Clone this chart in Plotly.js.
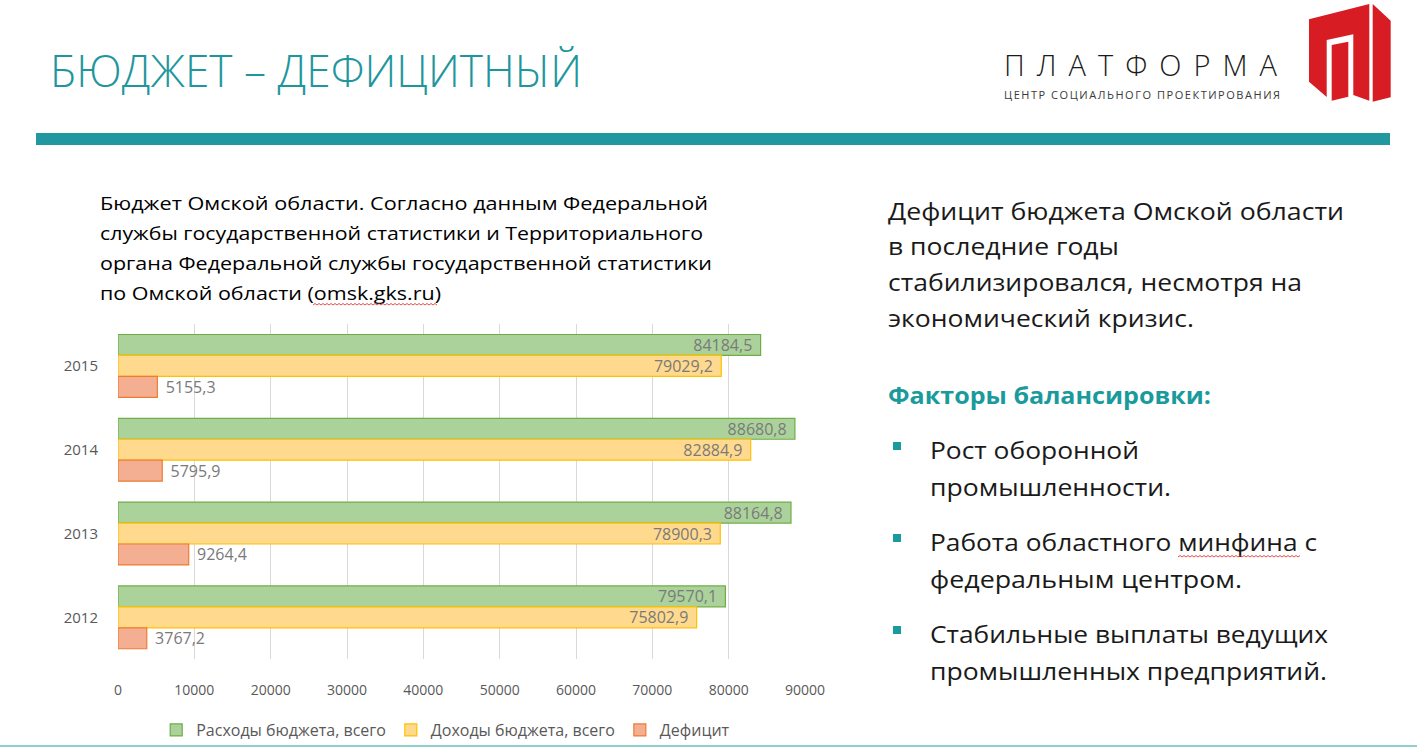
<!DOCTYPE html>
<html>
<head>
<meta charset="utf-8">
<script src="https://cdn.plot.ly/plotly-3.0.1.min.js"></script>
<style>
  html, body { margin:0; padding:0; background:#ffffff; }
  #wrap { position:relative; width:1417px; height:747px; overflow:hidden; }
  #chart { position:absolute; left:0; top:0; width:1417px; height:747px; }
  #deco { position:absolute; left:0; top:0; width:1417px; height:747px; pointer-events:none; }
  #deco text { font-family:"Open Sans","Noto Sans",sans-serif; }
</style>
</head>
<body>
<div id="wrap">
  <div id="chart"></div>
  <svg id="deco" width="1417" height="747" xmlns="http://www.w3.org/2000/svg">
    <!-- title -->
    <text x="50" y="87" font-size="45" font-weight="300" fill="#1f969e" textLength="532" lengthAdjust="spacingAndGlyphs">БЮДЖЕТ – ДЕФИЦИТНЫЙ</text>
    <!-- logo -->
    <text x="1004" y="76" font-size="29" font-weight="300" fill="#1a1a1a" textLength="273" lengthAdjust="spacing">ПЛАТФОРМА</text>
    <text x="1004" y="99" font-size="11" fill="#3a3a3a" textLength="276" lengthAdjust="spacing">ЦЕНТР СОЦИАЛЬНОГО ПРОЕКТИРОВАНИЯ</text>
    <polygon points="1309,19.3 1369.3,4 1369.3,100.7 1353.3,95 1353.3,34.3 1326.7,40 1326.7,97 1309,81.7" fill="#d81c24"/>
    <polygon points="1331.7,45 1348.3,41.7 1348.3,96.7 1331.7,100.7" fill="#d81c24"/>
    <polygon points="1372.7,4 1390.7,20.7 1390.7,97.3 1372.7,101.7" fill="#d81c24"/>
    <!-- teal rule -->
    <rect x="36" y="133" width="1354" height="12" fill="#21979f"/>
    <rect x="0" y="745" width="1417" height="2" fill="#8fd0cf"/>
    <!-- intro text -->
    <g font-size="18" fill="#000000">
      <text x="100" y="210" textLength="608" lengthAdjust="spacingAndGlyphs">Бюджет Омской области. Согласно данным Федеральной</text>
      <text x="100" y="240" textLength="603" lengthAdjust="spacingAndGlyphs">службы государственной статистики и Территориального</text>
      <text x="100" y="270" textLength="612" lengthAdjust="spacingAndGlyphs">органа Федеральной службы государственной статистики</text>
      <text x="100" y="300" textLength="341" lengthAdjust="spacingAndGlyphs">по Омской области (omsk.gks.ru)</text>
    </g>
    <!-- right text -->
    <g font-size="24" fill="#1a1a1a">
      <text x="888" y="220" textLength="456" lengthAdjust="spacingAndGlyphs">Дефицит бюджета Омской области</text>
      <text x="888" y="255" textLength="231" lengthAdjust="spacingAndGlyphs">в последние годы</text>
      <text x="888" y="291" textLength="414" lengthAdjust="spacingAndGlyphs">стабилизировался, несмотря на</text>
      <text x="888" y="327" textLength="306" lengthAdjust="spacingAndGlyphs">экономический кризис.</text>
    </g>
    <text x="888" y="404" font-size="24" font-weight="700" fill="#1a9a9c" textLength="323" lengthAdjust="spacingAndGlyphs">Факторы балансировки:</text>
    <g fill="#1a9a9c">
      <rect x="893" y="442" width="8" height="8"/>
      <rect x="893" y="534" width="8" height="8"/>
      <rect x="893" y="626" width="8" height="8"/>
    </g>
    <g font-size="24" fill="#1a1a1a">
      <text x="930" y="459" textLength="209" lengthAdjust="spacingAndGlyphs">Рост оборонной</text>
      <text x="930" y="496" textLength="241" lengthAdjust="spacingAndGlyphs">промышленности.</text>
      <text x="930" y="551" textLength="387" lengthAdjust="spacingAndGlyphs">Работа областного минфина с</text>
      <text x="930" y="588" textLength="312" lengthAdjust="spacingAndGlyphs">федеральным центром.</text>
      <text x="930" y="643" textLength="398" lengthAdjust="spacingAndGlyphs">Стабильные выплаты ведущих</text>
      <text x="930" y="680" textLength="397" lengthAdjust="spacingAndGlyphs">промышленных предприятий.</text>
    </g>
    <path id="wavy1" fill="none" stroke="#e02020" stroke-width="0.8"/>
    <path id="wavy2" fill="none" stroke="#e02020" stroke-width="0.8"/>
  </svg>
</div>
<script>
// ---- data ----
const years = ['2015', '2014', '2013', '2012'];
const expenses = [84184.5, 88680.8, 88164.8, 79570.1];
const revenues = [79029.2, 82884.9, 78900.3, 75802.9];
const deficit = [5155.3, 5795.9, 9264.4, 3767.2];
const seriesNames = ['Расходы бюджета, всего', 'Доходы бюджета, всего', 'Дефицит'];
const xTicks = [0, 10000, 20000, 30000, 40000, 50000, 60000, 70000, 80000, 90000];

function fmt(v) { return v.toFixed(1).replace('.', ','); }
const padIn = '\u2004';

const labelColor = '#7a7a7a';
const traces = [
  {
    type: 'bar', orientation: 'h', name: seriesNames[0], y: years, x: expenses,
    marker: { color: '#abd29b', line: { color: '#70ad47', width: 1.2 } },
    text: expenses.map(v => fmt(v) + padIn), textposition: 'inside', insidetextanchor: 'end',
    constraintext: 'none', textangle: 0,
    insidetextfont: { family: 'Open Sans, sans-serif', size: 16, color: labelColor }
  },
  {
    type: 'bar', orientation: 'h', name: seriesNames[1], y: years, x: revenues,
    marker: { color: '#ffd98d', line: { color: '#ffc000', width: 1.2 } },
    text: revenues.map(v => fmt(v) + padIn), textposition: 'inside', insidetextanchor: 'end',
    constraintext: 'none', textangle: 0,
    insidetextfont: { family: 'Open Sans, sans-serif', size: 16, color: labelColor }
  },
  {
    type: 'bar', orientation: 'h', name: seriesNames[2], y: years, x: deficit,
    marker: { color: '#f4ae92', line: { color: '#ed7d31', width: 1.2 } },
    text: deficit.map(v => padIn + fmt(v)), textposition: 'outside',
    constraintext: 'none', textangle: 0, cliponaxis: false,
    outsidetextfont: { family: 'Open Sans, sans-serif', size: 16, color: labelColor }
  }
];

// plot region: x 118..805, y 324..660 ; paper extends to page bottom so the legend fits inside it
const H = 747, T = 324, plotBottom = 660;
const paperH = H - T;
const domLow = (H - plotBottom) / paperH;

const layout = {
  width: 1417, height: 747,
  margin: { l: 118, r: 612, t: T, b: 0 },
  paper_bgcolor: '#ffffff', plot_bgcolor: '#ffffff',
  font: { family: 'Open Sans, sans-serif', color: '#595959' },
  barmode: 'group', bargap: 0.25, bargroupgap: 0,
  showlegend: true,
  legend: {
    orientation: 'h', x: 0.477, xanchor: 'center', y: (H - 731) / paperH, yanchor: 'middle',
    font: { size: 16, color: '#595959' }, traceorder: 'normal', bgcolor: 'rgba(0,0,0,0)'
  },
  xaxis: {
    range: [0, 90000], tickvals: xTicks, ticktext: xTicks.map(String),
    showgrid: true, gridcolor: '#d9d9d9', gridwidth: 1, zeroline: false, showline: false,
    ticks: 'outside', ticklen: 18, tickcolor: 'rgba(0,0,0,0)',
    tickfont: { size: 14, color: '#595959' }, fixedrange: true, anchor: 'y'
  },
  yaxis: {
    domain: [domLow, 1],
    type: 'category', categoryorder: 'array', categoryarray: years, autorange: 'reversed',
    showgrid: false, zeroline: false, showline: false,
    ticks: 'outside', ticklen: 16, tickcolor: 'rgba(0,0,0,0)',
    tickfont: { size: 15, color: '#595959' }, fixedrange: true
  }
};

Plotly.newPlot('chart', traces, layout, { staticPlot: true, displayModeBar: false });

// spell-check style wavy underlines (decoration)
function wavy(x0, x1, y) {
  let d = 'M' + x0 + ',' + y;
  let up = true;
  for (let x = x0 + 2; x <= x1; x += 2) { d += ' L' + x + ',' + (up ? y - 1.5 : y); up = !up; }
  return d;
}
document.getElementById('wavy1').setAttribute('d', wavy(313, 437, 305));
document.getElementById('wavy2').setAttribute('d', wavy(1178, 1300, 557));
</script>
</body>
</html>
